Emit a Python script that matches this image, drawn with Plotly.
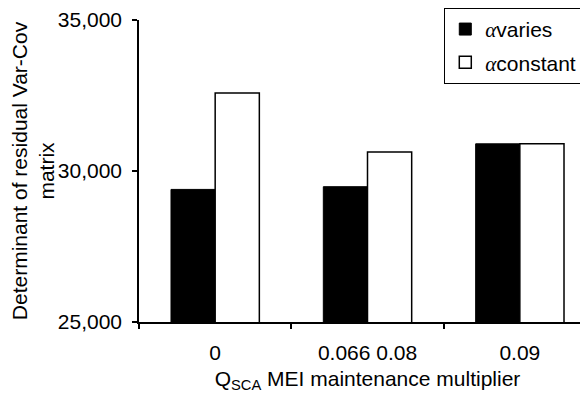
import plotly.graph_objects as go

categories = ["0", "0.066 0.08", "0.09"]
alpha_varies = [29390, 29480, 30900]
alpha_constant = [32580, 30630, 30900]
y_ticks = [25000, 30000, 35000]
y_tick_labels = ["25,000", "30,000", "35,000"]

FONT = "Liberation Sans, Arial, sans-serif"
FS = 21
ALPHA = '<span style="font-family:Liberation Serif, serif"><i>α</i></span>'

fig = go.Figure()
fig.add_trace(go.Bar(
    x=categories, y=alpha_varies, name=ALPHA + "varies", legendgroup="a",
    marker=dict(color="black", line=dict(color="black", width=1)),
))
fig.add_trace(go.Bar(
    x=categories, y=alpha_constant, name=ALPHA + "constant", legendgroup="b",
    marker=dict(color="white", line=dict(color="black", width=1.5)),
))

fig.update_layout(
    width=588, height=394,
    margin=dict(l=131, r=0, t=12, b=80, autoexpand=False),
    paper_bgcolor="white", plot_bgcolor="white",
    font=dict(family=FONT, size=FS, color="black"),
    barmode="group", bargap=0.42, bargroupgap=0,
    showlegend=True,
    legend=dict(
        x=0.97, xanchor="right", y=1.04, yanchor="top",
        bgcolor="white", bordercolor="black", borderwidth=1,
        font=dict(family=FONT, size=FS),
        itemwidth=30, tracegroupgap=3, traceorder="grouped",
    ),
    xaxis=dict(
        type="category", range=[-0.5, 2.5],
        showline=True, linecolor="black", linewidth=1.5,
        ticks="outside", ticklen=5, tickcolor="black", tickwidth=1.5,
        ticklabelstandoff=11,
        tickson="boundaries", showgrid=False, zeroline=False,
        title=dict(text="Q<sub>SCA</sub> MEI maintenance multiplier", standoff=8,
                   font=dict(size=FS)),
        tickfont=dict(size=FS),
    ),
    yaxis=dict(
        range=[25000, 35000],
        tickvals=y_ticks, ticktext=y_tick_labels,
        showline=True, linecolor="black", linewidth=1.5,
        ticks="outside", ticklen=5, tickcolor="black", tickwidth=1.5,
        ticklabelstandoff=6,
        showgrid=False, zeroline=False,
        title=dict(text="Determinant of residual Var-Cov<br>matrix", standoff=0,
                   font=dict(size=FS)),
        tickfont=dict(size=FS),
    ),
)

fig.write_html("out.html")
